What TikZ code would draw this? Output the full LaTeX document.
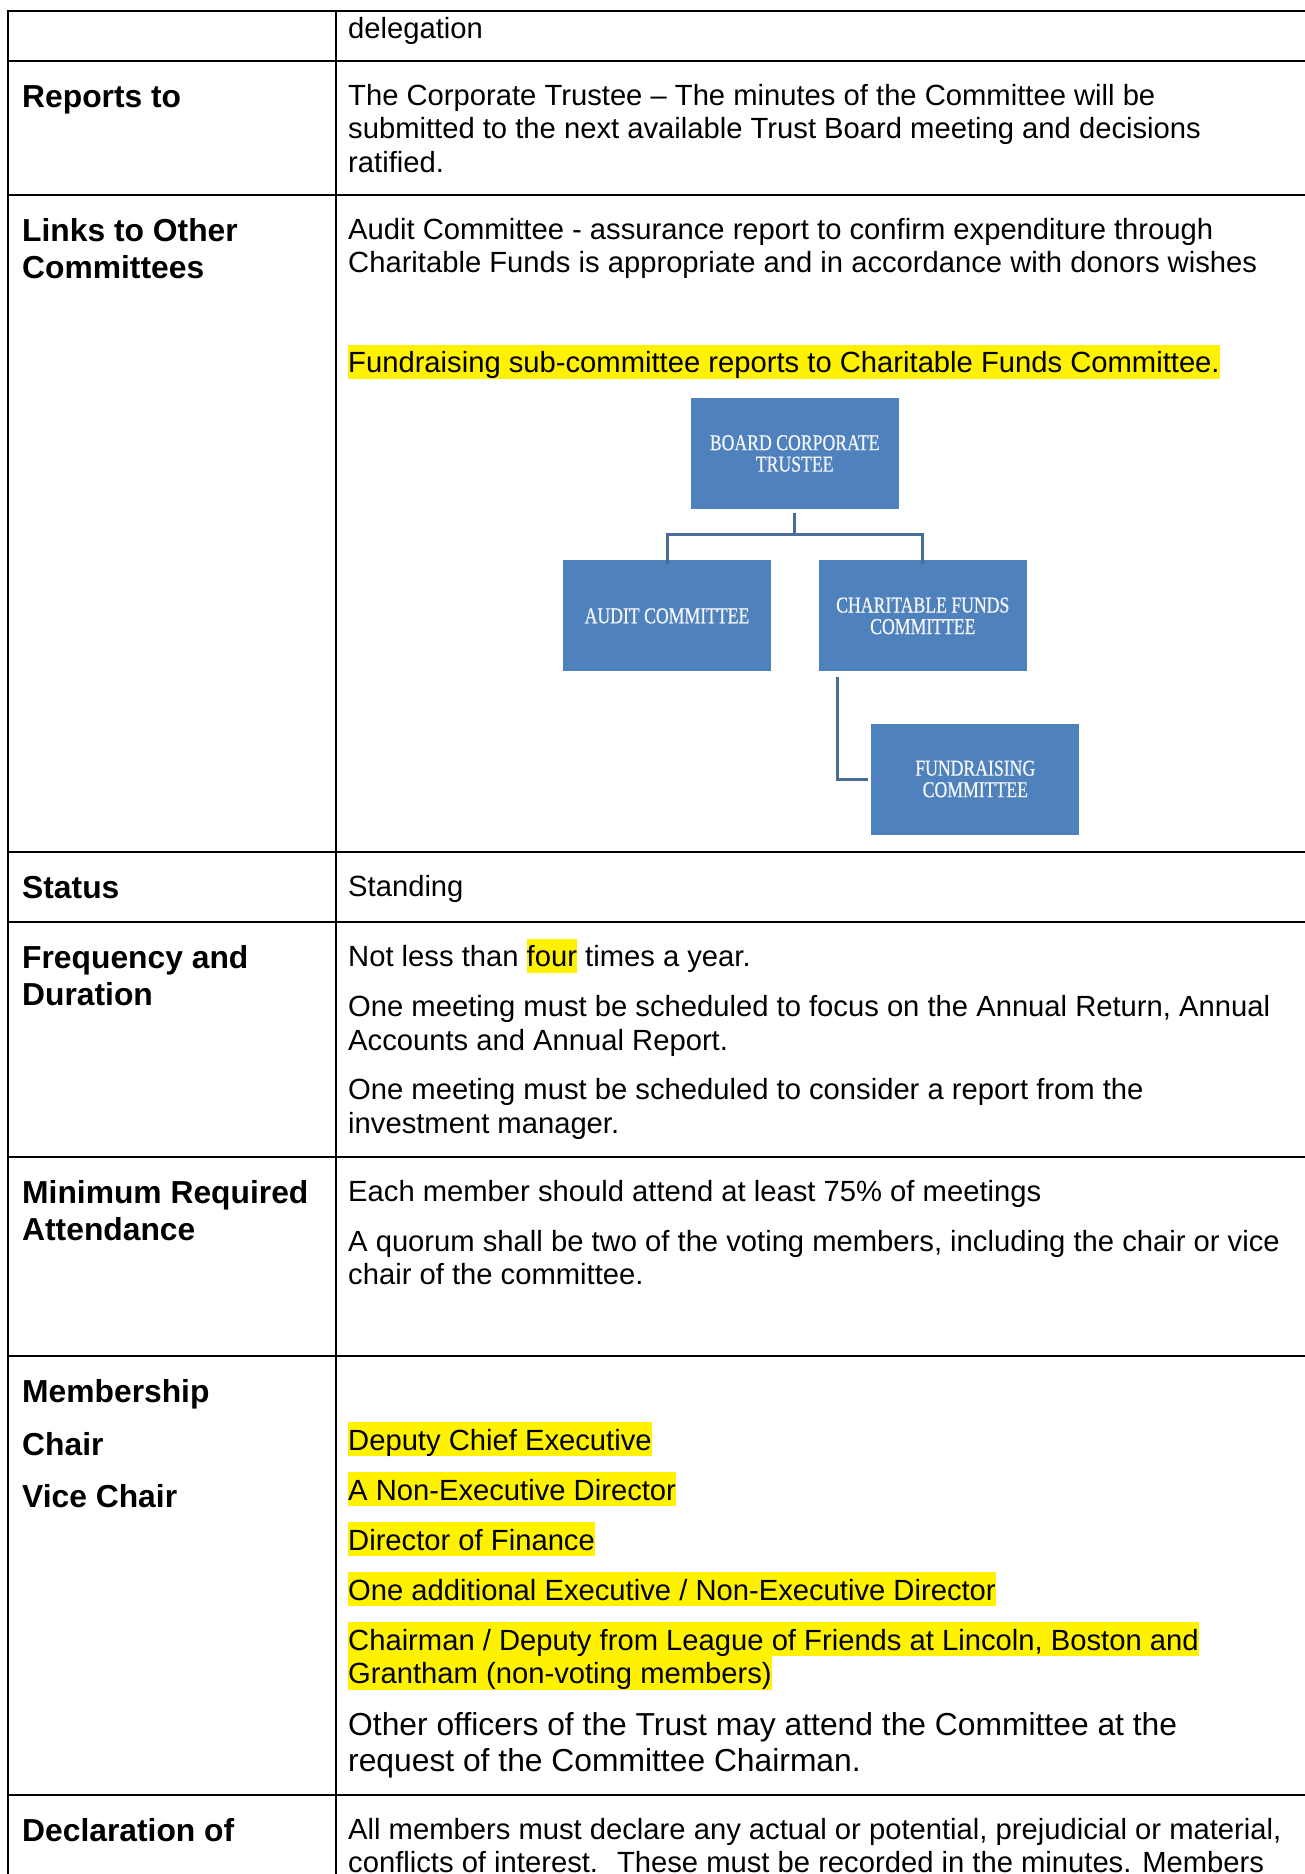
\documentclass[tikz,border=0pt]{standalone}
\usepackage{fontspec}
\setmainfont{Liberation Sans}
\newfontfamily\chartfont[FakeStretch=0.78,FakeBold=0.6]{Liberation Serif}
\usetikzlibrary{positioning}
\definecolor{boxblue}{HTML}{4F81BD}
\definecolor{linkblue}{HTML}{4A6C97}
\newcommand\bodyfont{\fontsize{29.2}{33.5}\selectfont\lineskiplimit=-100pt}
\newcommand\bigbody{\fontsize{31.8}{36.5}\selectfont\lineskiplimit=-100pt}
\newcommand\labfont{\fontsize{31.8}{36.5}\selectfont\bfseries\lineskiplimit=-100pt}
\newcommand\hl[1]{{\setlength\fboxsep{0pt}\colorbox{yellow}{\rule[-6pt]{0pt}{33.7pt}#1}}}
% multi-line cells sit on the baseline of their last line
\tikzstyle{cell}=[
	anchor=base west,
	inner sep=0,
	align=left,
	font=\bodyfont]
\tikzstyle{lab}=[
	cell,
	font=\labfont]
\tikzstyle{unit}=[
	rectangle,
	fill=boxblue,
	minimum width=208,
	minimum height=111,
	text=white!93!boxblue,
	align=center,
	font=\chartfont\fontsize{22.7}{21.5}\selectfont]
\tikzstyle{link}=[
	draw=linkblue,
	line width=3]
\tikzstyle{rule}=[
	line width=2]

\begin{document}
\begin{tikzpicture}[x=1pt,y=1pt]
	\useasboundingbox (0,0) rectangle (1305,-1874);
	% table
	\foreach \r in {10.5,61,195,852,922,1157,1356,1795}
		\draw[rule] (6.5,-\r) -- (1305,-\r);
	\draw[rule] (7.5,-9.5) -- (7.5,-1874);
	\draw[rule] (335.5,-9.5) -- (335.5,-1874);
	% left column
	\node[lab]	(rep)	at (22,-107.5)	{Reports to};
	\node[lab]	(links)	at (22,-278)	{Links to Other\\Committees};
	\node[lab]	(stat)	at (22,-898.5)	{Status};
	\node[lab]	(freq)	at (22,-1005)	{Frequency and\\Duration};
	\node[lab]	(att)	at (22,-1240)	{Minimum Required\\Attendance};
	\node[lab]	(memb)	at (22,-1402.5)	{Membership};
	\node[lab]	(chair)	at (22,-1455)	{Chair};
	\node[lab]	(vice)	at (22,-1507.5)	{Vice Chair};
	\node[lab]	(decl)	at (22,-1841.5)	{Declaration of};
	% right column
	\node[cell]	(deleg)	at (348,-38.5)	{delegation};
	\node[cell]	(rep1)	at (348,-172)	{The Corporate Trustee -- The minutes of the Committee will be\\submitted to the next available Trust Board meeting and decisions\\ratified.};
	\node[cell]	(links1)	at (348,-272.5)	{Audit Committee - assurance report to confirm expenditure through\\Charitable Funds is appropriate and in accordance with donors wishes};
	\node[cell]	(links2)	at (348,-372.5)	{\hl{Fundraising sub-committee reports to Charitable Funds Committee.}};
	\node[cell]	(stat1)	at (348,-896)	{Standing};
	\node[cell]	(freq1)	at (348,-966.5)	{Not less than \hl{four} times a year.};
	\node[cell]	(freq2)	at (348,-1050)	{One meeting must be scheduled to focus on the Annual Return, Annual\\Accounts and Annual Report.};
	\node[cell]	(freq3)	at (348,-1133)	{One meeting must be scheduled to consider a report from the\\investment manager.};
	\node[cell]	(att1)	at (348,-1201)	{Each member should attend at least 75\% of meetings};
	\node[cell]	(att2)	at (348,-1284.5)	{A quorum shall be two of the voting members, including the chair or vice\\chair of the committee.};
	\node[cell]	(memb1)	at (348,-1450)	{\hl{Deputy Chief Executive}};
	\node[cell]	(memb2)	at (348,-1500)	{\hl{A Non-Executive Director}};
	\node[cell]	(memb3)	at (348,-1550)	{\hl{Director of Finance}};
	\node[cell]	(memb4)	at (348,-1600)	{\hl{One additional Executive / Non-Executive Director}};
	\node[cell]	(memb5)	at (348,-1683.5)	{\hl{Chairman / Deputy from League of Friends at Lincoln, Boston and}\\\hl{Grantham (non-voting members)}};
	\node[cell,font=\bigbody]	(memb6)	at (348,-1771.5)	{Other officers of the Trust may attend the Committee at the\\request of the Committee Chairman.};
	\node[cell]	(decl1)	at (348,-1872.5)	{All members must declare any actual or potential, prejudicial or material,\\conflicts of interest.~ These must be recorded in the minutes. Members};
	% committee chart
	\node[unit]	(board)	at (794.7,-453.5)	{BOARD CORPORATE\\TRUSTEE};
	\node[unit]	(audit)	[below=51pt of board, xshift=-127.7pt]	{AUDIT COMMITTEE};
	\node[unit]	(charity)	[below=51pt of board, xshift=128.1pt]	{CHARITABLE FUNDS\\COMMITTEE};
	\node[unit]	(fund)	[below=51.7pt of charity, xshift=52.5pt]	{FUNDRAISING\\COMMITTEE};
	\coordinate (bus) at ([yshift=-25pt]board.south);
	\draw[link] ([yshift=-4pt]board.south) -- (bus);
	\draw[link] ([yshift=-4pt]audit.north) |- (bus) -| ([yshift=-4pt]charity.north);
	\draw[link] ([xshift=19.3pt,yshift=-5pt]charity.south west) |- ([xshift=-3.4pt]fund.west);
\end{tikzpicture}
\end{document}
